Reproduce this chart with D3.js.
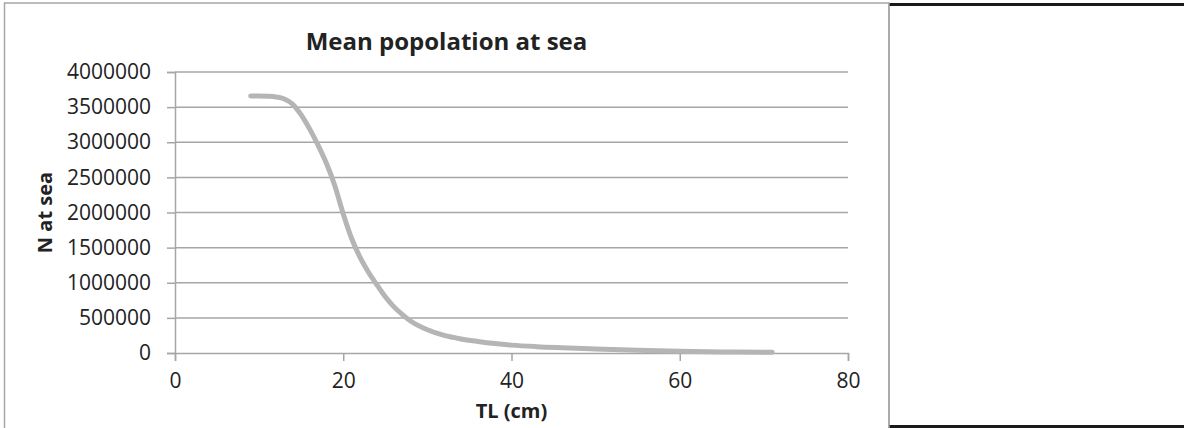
<!DOCTYPE html>
<html>
<head>
<meta charset="utf-8">
<script src="https://cdn.jsdelivr.net/npm/d3@7"></script>
<style>
  html, body { margin: 0; padding: 0; background: #fff; }
  svg { display: block; }
  text { font-family: "Open Sans", "Liberation Sans", sans-serif; fill: #222; }
</style>
</head>
<body>
<script>
// ---- data ----
const chartTitle = "Mean popolation at sea";
const xTitle = "TL (cm)";
const yTitle = "N at sea";
const xTicks = [0, 20, 40, 60, 80];
const yTicks = [0, 500000, 1000000, 1500000, 2000000, 2500000, 3000000, 3500000, 4000000];
const tl = [9, 10, 11, 12, 13, 14, 15, 16, 17, 18, 19, 20, 21, 22, 23, 24, 25, 26, 27, 28,
            30, 32, 34, 36, 38, 40, 43, 46, 50, 55, 60, 65, 71];
const nAtSea = [3660000, 3659000, 3655000, 3645000, 3615000, 3540000, 3390000, 3190000, 2960000, 2700000,
                2380000, 1980000, 1630000, 1360000, 1150000, 970000, 800000, 660000, 550000, 455000,
                330000, 250000, 200000, 165000, 135000, 112000, 90000, 75000, 58000, 40000, 25000, 15000, 10000];

const W = 1184, H = 428;
const svg = d3.select("body").append("svg").attr("width", W).attr("height", H);

// chart frame
svg.append("rect").attr("x", 4.5).attr("y", 3).attr("width", 884.5).attr("height", 440)
  .attr("fill", "#fff").attr("stroke", "#a6a6a6").attr("stroke-width", 1.5);

// right empty box
svg.append("line").attr("x1", 889).attr("x2", W).attr("y1", 4.5).attr("y2", 4.5)
  .attr("stroke", "#1a1a1a").attr("stroke-width", 3);
svg.append("line").attr("x1", 889).attr("x2", W).attr("y1", 426.5).attr("y2", 426.5)
  .attr("stroke", "#1a1a1a").attr("stroke-width", 3);
svg.append("line").attr("x1", 889).attr("x2", 889).attr("y1", 3).attr("y2", H)
  .attr("stroke", "#a6a6a6").attr("stroke-width", 1.5);

const x = d3.scaleLinear().domain([0, 80]).range([175, 848]);
const y = d3.scaleLinear().domain([0, 4000000]).range([353, 72]);

// gridlines
svg.append("g").selectAll("line").data(yTicks.filter(d => d > 0)).join("line")
  .attr("x1", x(0)).attr("x2", x(80))
  .attr("y1", d => y(d)).attr("y2", d => y(d))
  .attr("stroke", "#a6a6a6").attr("stroke-width", 1.5);

// y axis
const yAxis = svg.append("g").attr("transform", `translate(${x(0)},0)`)
  .call(d3.axisLeft(y).tickValues(yTicks).tickFormat(d3.format("d")).tickSize(8).tickPadding(16));
yAxis.select(".domain").attr("stroke", "#a6a6a6").attr("stroke-width", 1.5);
yAxis.selectAll(".tick line").attr("stroke", "#a6a6a6").attr("stroke-width", 1.5);
yAxis.selectAll(".tick text").attr("font-size", 21).attr("fill", "#222")
  .attr("font-family", "'Open Sans', sans-serif");

// x axis
const xAxis = svg.append("g").attr("transform", `translate(0,${y(0)})`)
  .call(d3.axisBottom(x).tickValues(xTicks).tickSize(8).tickPadding(12));
xAxis.select(".domain").attr("stroke", "#a6a6a6").attr("stroke-width", 1.5);
xAxis.selectAll(".tick line").attr("stroke", "#a6a6a6").attr("stroke-width", 1.5);
xAxis.selectAll(".tick text").attr("font-size", 21).attr("fill", "#222")
  .attr("font-family", "'Open Sans', sans-serif");

// curve
const line = d3.line().x((d, i) => x(tl[i])).y(d => y(d)).curve(d3.curveMonotoneX);
svg.append("path").datum(nAtSea).attr("d", line)
  .attr("fill", "none").attr("stroke", "#b5b5b5").attr("stroke-width", 5)
  .attr("stroke-linecap", "round").attr("stroke-linejoin", "round");

// titles
svg.append("text").attr("x", 446.5).attr("y", 50).attr("text-anchor", "middle")
  .attr("font-size", 24).attr("font-weight", "bold").text(chartTitle);
svg.append("text").attr("x", x(40)).attr("y", 418).attr("text-anchor", "middle")
  .attr("font-size", 20).attr("font-weight", "bold").text(xTitle);
svg.append("text").attr("transform", `translate(52,${(y(0) + y(4000000)) / 2}) rotate(-90)`)
  .attr("text-anchor", "middle")
  .attr("font-size", 20).attr("font-weight", "bold").text(yTitle);
</script>
</body>
</html>
